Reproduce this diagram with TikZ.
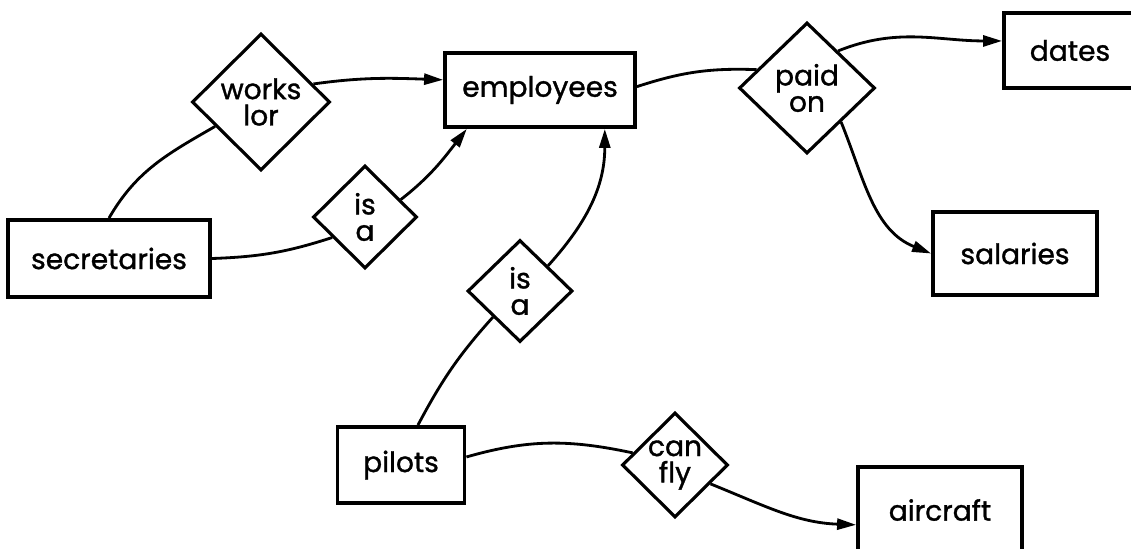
\documentclass[tikz,border=0pt]{standalone}
\usepackage{fontspec}
\setmainfont{Poppins}[FakeBold=1.2]
\usetikzlibrary{shapes.geometric,arrows.meta}
\begin{document}
\begin{tikzpicture}[x=0.02cm,y=-0.02cm,
  every node/.style={font=\fontsize{16}{15}\selectfont},
  box/.style={draw, line width=2.2pt, inner sep=0pt},
  rel/.style={draw, diamond, aspect=1, line width=1.8pt, inner sep=0pt, align=center},
  conn/.style={line width=1.6pt},
  arr/.style={conn, -{Triangle[length=0.38cm,width=0.22cm]}}]
\useasboundingbox (0,0) rectangle (1131,548);
% entities
\node[box, minimum width=3.8cm, minimum height=1.48cm] (emp) at (540,90) {employees};
\node[box, minimum width=4.04cm, minimum height=1.54cm] (sec) at (109,258.5) {secretaries};
\node[box, minimum width=2.64cm, minimum height=1.5cm] (dat) at (1070,50.5) {dates};
\node[box, minimum width=3.28cm, minimum height=1.66cm] (sal) at (1015,253.5) {salaries};
\node[box, minimum width=2.54cm, minimum height=1.52cm] (pil) at (401,465) {pilots};
\node[box, minimum width=3.28cm, minimum height=1.72cm] (air) at (940,510) {aircraft};
% relationships
\node[rel, minimum width=2.76cm, minimum height=2.74cm] (wf) at (261,102) {works\\lor};
\node[rel, minimum width=2.08cm, minimum height=2.06cm] (isa1) at (365,217) {is\\a};
\node[rel, minimum width=2.72cm, minimum height=2.62cm] (po) at (807,88) {paid\\on};
\node[rel, minimum width=2.1cm, minimum height=2.04cm] (isa2) at (520,291) {is\\a};
\node[rel, minimum width=2.12cm, minimum height=2.1cm] (cf) at (675,465) {can\\fly};
% connectors
\draw[conn] (sec.north) to[out=60,in=-150] (wf.-152);
\draw[arr] (wf.19) to[out=8,in=178] (emp.174);
\draw[conn] (sec.east) to[out=2,in=-162] (isa1.-148);
\draw[arr] (isa1.26) to[out=38,in=-128] (emp.-152);
\draw[arr] (isa2.42) to[out=48,in=-90] (emp.-31.7);
\draw[conn] (pil.67) to[out=62,in=-132] (isa2.-136);
\draw[conn] (pil.7) to[out=16,in=168] (cf.164);
\draw[arr] (cf.-28) to[out=-22,in=178] (air.190);
\draw[conn] (emp.2) to[out=18,in=178] (po.160);
\draw[arr] (po.50) to[out=22,in=180] (dat.172);
\draw[arr] (po.-45) to[out=-68,in=158] (sal.west);
\end{tikzpicture}
\end{document}
